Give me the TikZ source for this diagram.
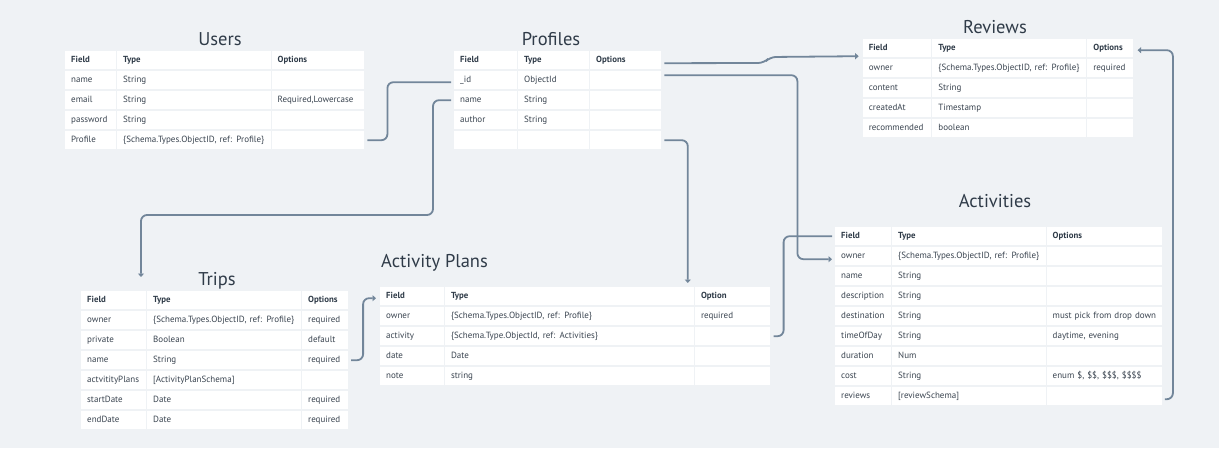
\documentclass[tikz,border=0pt]{standalone}
\usepackage{fontspec}
\setmainfont{PT Sans}
\usetikzlibrary{matrix,arrows.meta}
\definecolor{bgc}{HTML}{EFF2F5}
\definecolor{connc}{HTML}{72869A}
\definecolor{ink}{HTML}{3A4450}
\definecolor{titlec}{HTML}{2F3B48}
\newcommand{\nb}[1]{\mbox{#1}}
\tikzset{
  dbtable/.style={matrix of nodes, nodes in empty cells, row sep=2pt, column sep=1pt,
    inner sep=0pt, anchor=north west,
    nodes={fill=white, minimum height=18pt, inner xsep=6pt, inner ysep=0pt,
      text height=6.5pt, text depth=1.8pt, align=left,
      font=\fontsize{9}{10}\selectfont, text=ink},
    row 1/.style={nodes={font=\fontsize{8.8}{10}\selectfont\bfseries, text=titlec}}},
  cols/.style n args={3}{column 1/.style={nodes={text width=#1}},
    column 2/.style={nodes={text width=#2}},
    column 3/.style={nodes={text width=#3}}},
  ttl/.style={font=\fontsize{18.5}{22}\selectfont, text=titlec, inner sep=0pt},
  conn/.style={draw=connc, line width=1.8pt, rounded corners=6pt},
  tip/.style={-{Triangle[length=3.5pt,width=6pt]}}
}
\begin{document}
\begin{tikzpicture}[x=1pt,y=-1pt]
\fill[bgc] (0,0) rectangle (1219,448);
\useasboundingbox (0,0) rectangle (1219,448);

% Titles
\node[ttl, anchor=base] (users-t) at (220,45.7) {Users};
\node[ttl, anchor=base] (profiles-t) at (551,45.7) {Profiles};
\node[ttl, anchor=base] (reviews-t) at (995,33.3) {Reviews};
\node[ttl, anchor=base] (activities-t) at (995,207.3) {Activities};
\node[ttl, anchor=base] (trips-t) at (217,285.7) {Trips};
\node[ttl, anchor=base west] (ap-t) at (381,267.3) {Activity Plans};

% Users
\matrix[dbtable, cols={39pt}{141.5pt}{80.5pt}] (users) at (65,51) {
Field & Type & Options \\
name & String & \\
email & String & Required,Lowercase \\
password & String & \\
Profile & \nb{\{Schema.Types.ObjectID, ref: Profile\}} & \\
};

% Profiles
\matrix[dbtable, cols={51pt}{59pt}{59pt}] (profiles) at (454,51) {
Field & Type & Options \\
\_id & ObjectId & \\
name & String & \\
author & String & \\
 & & \\
};

% Reviews
\matrix[dbtable, cols={56.5pt}{142pt}{34pt}] (reviews) at (862.7,39) {
Field & Type & Options \\
owner & \nb{\{Schema.Types.ObjectID, ref: Profile\}} & required \\
content & String & \\
createdAt & Timestamp & \\
recommended & boolean & \\
};

% Activities
\matrix[dbtable, cols={44pt}{141.5pt}{103pt}] (activities) at (835,227) {
Field & Type & Options \\
owner & \nb{\{Schema.Types.ObjectID, ref: Profile\}} & \\
name & String & \\
description & String & \\
destination & String & \nb{must pick from drop down} \\
timeOfDay & String & \nb{daytime, evening} \\
duration & Num & \\
cost & String & \nb{enum \$, \$\$, \$\$\$, \$\$\$\$} \\
reviews & \nb{[reviewSchema]} & \\
};

% Trips
\matrix[dbtable, cols={53pt}{142pt}{33.7pt}] (trips) at (81,291) {
Field & Type & Options \\
owner & \nb{\{Schema.Types.ObjectID, ref: Profile\}} & required \\
private & Boolean & default \\
name & String & required \\
actvitityPlans & \nb{[ActivityPlanSchema]} & \\
startDate & Date & required \\
endDate & Date & required \\
};

% Activity Plans
\matrix[dbtable, cols={51.8pt}{237pt}{63.4pt}] (ap) at (380,287) {
Field & Type & Option \\
owner & \nb{\{Schema.Types.ObjectID, ref: Profile\}} & required \\
activity & \nb{\{Schema.Type.ObjectId, ref: Activities\}} & \\
date & Date & \\
note & string & \\
};

% Connectors
\draw[conn] ([xshift=3pt]users-5-3.east) -- ++(20,0) |- ([xshift=-3pt,yshift=-2pt]profiles-2-1.west);
\draw[conn,tip] ([xshift=-3pt]profiles-3-1.west) -| (433,215) -| ([xshift=-6pt,yshift=14pt]trips-1-2.north west);
\draw[conn,tip] ([xshift=3pt,yshift=-3pt]profiles-1-3.east) -- (764,63) -- (770,57) -- ([xshift=-4pt,yshift=-8pt]reviews-1-1.west);
\draw[conn,tip] ([xshift=3pt,yshift=5pt]profiles-2-3.east) -- ++(133,0) |- ([xshift=-3pt,yshift=-3pt]activities-2-1.west);
\draw[conn,tip] ([xshift=3pt]profiles-5-3.east) -| ([xshift=-7pt,yshift=4pt]ap-1-3.north west);
\draw[conn,tip] ([xshift=3pt]trips-4-3.east) -- ++(12,0) |- ([xshift=-4pt,yshift=-2pt]ap-1-1.west);
\draw[conn] ([xshift=3pt]ap-3-3.east) -- ++(10,0) |- ([xshift=-3pt]activities-1-1.west);
\draw[conn,tip] ([xshift=3pt,yshift=-3pt]activities-9-3.east) -- ++(8,0) |- ([xshift=4pt,yshift=-2pt]reviews-1-3.east);
\end{tikzpicture}
\end{document}
